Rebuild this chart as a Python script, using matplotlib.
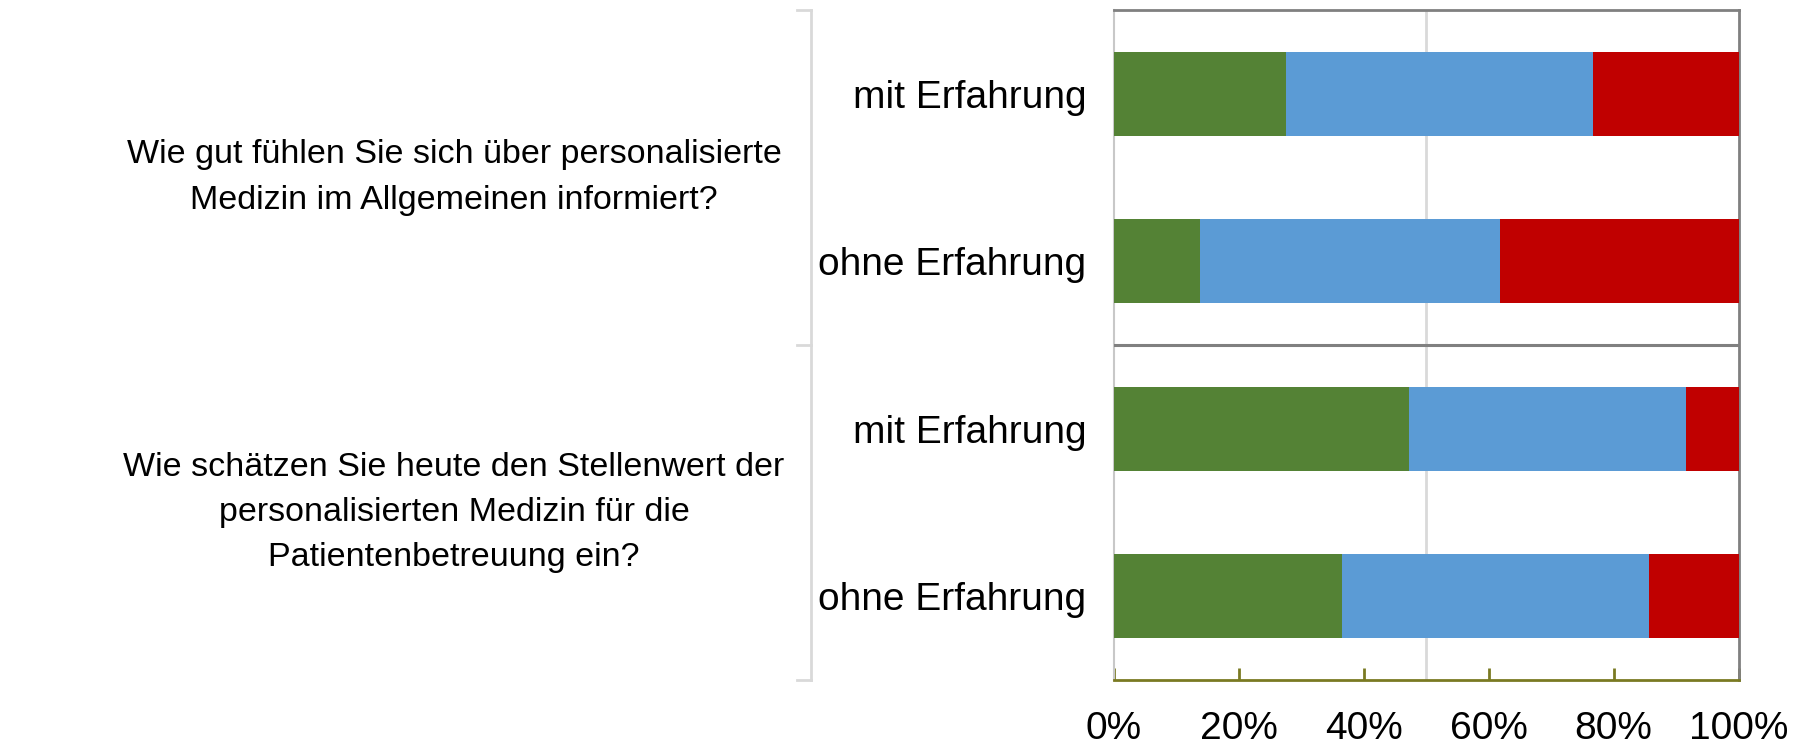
import numpy as np
import matplotlib
matplotlib.use("Agg")
import matplotlib.pyplot as plt
import matplotlib.transforms as mtransforms

plt.rcParams['font.family'] = ['Liberation Sans', 'DejaVu Sans']

# data (percent)
rows = ["mit Erfahrung", "ohne Erfahrung", "mit Erfahrung", "ohne Erfahrung"]
questions = ["Wie gut fühlen Sie sich über personalisierte\nMedizin im Allgemeinen informiert?",
             "Wie schätzen Sie heute den Stellenwert der\npersonalisierten Medizin für die\nPatientenbetreuung ein?"]
green = [27.5, 13.8, 47.2, 36.5]
blue = [49.2, 48.0, 44.4, 49.2]
red = [23.3, 38.2, 8.4, 14.3]
ticks = [0, 20, 40, 60, 80, 100]

c_green = "#548235"
c_blue = "#5B9BD5"
c_red = "#C00000"
olive = "#7A7A22"

fig = plt.figure(figsize=(18.02, 7.44), dpi=100)
ax = fig.add_axes([1114/1802, 1 - 680/744, (1738.5-1114)/1802, 670/744])

y = np.arange(len(rows))
left = np.zeros(len(rows))
for vals, col in [(green, c_green), (blue, c_blue), (red, c_red)]:
    ax.barh(y, vals, left=left, height=0.5, color=col, zorder=3)
    left += np.array(vals)

ax.set_xlim(0, 100)
ax.set_ylim(3.5, -0.5)
ax.axvline(50, color="#D9D9D9", lw=2, zorder=1)
ax.axhline(1.5, color="#808080", lw=2.2, zorder=4)

ax.set_yticks(y)
ax.set_yticklabels(rows, fontsize=28)
ax.tick_params(axis='y', length=0, pad=20)

ax.set_xticks(ticks)
ax.set_xticklabels([f"{t}%" for t in ticks], fontsize=28)
ax.tick_params(axis='x', direction='in', length=9, width=2, color=olive, pad=22)

for s in ['top', 'right']:
    ax.spines[s].set_color("#808080")
    ax.spines[s].set_linewidth(2)
ax.spines['left'].set_color("#C8C8C8")
ax.spines['left'].set_linewidth(1.5)
ax.spines['bottom'].set_color(olive)
ax.spines['bottom'].set_linewidth(2)

# question labels and group bracket
trans = mtransforms.blended_transform_factory(fig.transFigure, ax.transData)
ax.text(454/1802, 0.5, questions[0], transform=trans, ha='center', va='center',
        fontsize=24.5, linespacing=1.6)
ax.text(454/1802, 2.5, questions[1], transform=trans, ha='center', va='center',
        fontsize=24.5, linespacing=1.6)

bx = 811/1802
bx0 = 797/1802
ax.plot([bx, bx], [-0.5, 3.5], transform=trans, color="#D9D9D9", lw=2, clip_on=False)
for yy in [-0.5, 1.5, 3.5]:
    ax.plot([bx0, bx], [yy, yy], transform=trans, color="#D9D9D9", lw=2, clip_on=False)

fig.savefig("out.png", dpi=100)
